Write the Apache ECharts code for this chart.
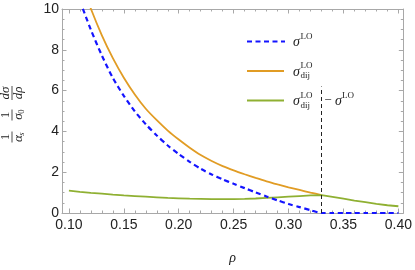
<!DOCTYPE html>
<html>
<head>
<meta charset="utf-8">
<script src="https://cdn.jsdelivr.net/npm/echarts@6/dist/echarts.min.js"></script>
<style>
html, body { margin: 0; padding: 0; background: #fff; }
#chart { width: 415px; height: 270px; }
</style>
</head>
<body>
<div id="chart"></div>
<script>
// rho grid and the three curves (null = not drawn)
var rho = [0.10, 0.11, 0.12, 0.13, 0.14, 0.15, 0.16, 0.17, 0.18, 0.19, 0.20,
           0.21, 0.22, 0.23, 0.24, 0.25, 0.26, 0.27, 0.28, 0.29, 0.30,
           0.31, 0.32, 0.33, 0.34, 0.35, 0.36, 0.37, 0.38, 0.39, 0.40];
var sigmaLO = [null, 10.4, 8.98, 7.72, 6.62, 5.74, 4.98, 4.35, 3.80, 3.31, 2.89,
               2.51, 2.17, 1.89, 1.65, 1.43, 1.22, 1.01, 0.81, 0.62, 0.44,
               0.29, 0.14, 0, 0, 0, 0, 0, 0, 0, 0];
var sigmaDij = [null, 11.5, 10.01, 8.71, 7.59, 6.63, 5.81, 5.11, 4.55, 4.04, 3.60,
                3.20, 2.84, 2.55, 2.30, 2.09, 1.90, 1.72, 1.55, 1.40, 1.26,
                1.13, 1.00, 0.88, null, null, null, null, null, null, null];
var sigmaDiff = [1.10, 1.04, 0.99, 0.95, 0.90, 0.86, 0.83, 0.80, 0.77, 0.74, 0.72,
                 0.70, 0.69, 0.68, 0.68, 0.68, 0.69, 0.71, 0.74, 0.77, 0.80,
                 0.83, 0.86, 0.88, 0.79, 0.70, 0.61, 0.53, 0.45, 0.38, 0.33];
// vertical marker: x, y from, y to
var cutRho = 0.33, cutFrom = 0, cutTo = 6.2;

var xMajor = [0.10, 0.15, 0.20, 0.25, 0.30, 0.35, 0.40];
var xMinor = [0.10, 0.11, 0.12, 0.13, 0.14, 0.15, 0.16, 0.17, 0.18, 0.19, 0.20,
              0.21, 0.22, 0.23, 0.24, 0.25, 0.26, 0.27, 0.28, 0.29, 0.30,
              0.31, 0.32, 0.33, 0.34, 0.35, 0.36, 0.37, 0.38, 0.39, 0.40];

var chart = echarts.init(document.getElementById('chart'));

function pairs(ys) {
    return rho.map(function (x, i) { return [x, ys[i]]; });
}

var frame = '#a8a8a8';
var xmin = 0.0937, xmax = 0.4045;
var serif = '"Liberation Serif", "DejaVu Serif", serif';
var sans = '"Liberation Sans", Arial, sans-serif';

function xAx(pos, ticks, len, labels, line) {
    return {
        type: 'value', position: pos, min: xmin, max: xmax,
        axisLine: { show: line, lineStyle: { color: frame, width: 1 } },
        axisTick: { show: true, inside: true, length: len, customValues: ticks,
                    lineStyle: { color: frame, width: 1 } },
        axisLabel: { show: labels, customValues: ticks, margin: 5,
                     formatter: function (v) { return v.toFixed(2); },
                     color: '#222', fontSize: 14, fontFamily: sans },
        splitLine: { show: false }
    };
}
function yAx(pos, labels) {
    return {
        type: 'value', position: pos, min: 0, max: 10, interval: 2,
        axisLine: { show: true, lineStyle: { color: frame, width: 1 } },
        axisTick: { show: true, inside: true, length: 4.5, lineStyle: { color: frame } },
        minorTick: { show: true, splitNumber: 4, length: 2.5, lineStyle: { color: frame } },
        axisLabel: { show: labels, margin: 3, color: '#222', fontSize: 14, fontFamily: sans },
        splitLine: { show: false }
    };
}

var xAxes = [
    xAx('bottom', xMajor, 4.5, true, true),
    xAx('bottom', xMinor, 2.5, false, false),
    xAx('top', xMajor, 4.5, false, true),
    xAx('top', xMinor, 2.5, false, false)
];
xAxes[0].name = 'ρ';
xAxes[0].nameLocation = 'middle';
xAxes[0].nameGap = 38;
xAxes[0].nameTextStyle = { fontFamily: serif, fontStyle: 'italic', fontSize: 14, color: '#222' };

// text centred vertically on y
function txt(t, x, y, size, italic, align) {
    return {
        type: 'text', x: x, y: y, silent: true,
        style: {
            text: t, fill: '#222',
            fontSize: size, fontFamily: serif,
            fontStyle: italic ? 'italic' : 'normal',
            align: align || 'left',
            verticalAlign: 'middle'
        }
    };
}
function seg(x1, y1, x2, y2, color, width, dash) {
    return {
        type: 'line', silent: true,
        shape: { x1: x1, y1: y1, x2: x2, y2: y2 },
        style: { stroke: color, lineWidth: width, lineDash: dash || null }
    };
}

// y-axis label: (1/alpha_s)(1/sigma_0)(d sigma/d rho), rotated
var yLabel = {
    type: 'group', x: 12, y: 115, rotation: Math.PI / 2, silent: true,
    children: [
        txt('1', -22, -6.5, 13, false, 'center'),
        seg(-27.5, 0, -16.5, 0, '#222', 0.8),
        txt('α', -23.5, 7, 13, true, 'center'),
        txt('s', -19, 10, 8.5, true, 'center'),
        txt('1', 0, -6.5, 13, false, 'center'),
        seg(-5.5, 0, 5.5, 0, '#222', 0.8),
        txt('σ', -1.5, 7, 13, true, 'center'),
        txt('0', 3.5, 10, 8.5, false, 'center'),
        txt('dσ', 22, -6.5, 13, true, 'center'),
        seg(15, 0, 29, 0, '#222', 0.8),
        txt('dρ', 22, 7, 13, true, 'center')
    ]
};

var legend = [
    seg(247, 41.5, 285, 41.5, '#1414ff', 2.2, [5, 3.5]),
    txt('σ', 293, 42.5, 14, true),
    txt('LO', 300.5, 36.5, 9),
    seg(247, 71, 284, 71, '#e19c24', 1.8),
    txt('σ', 293, 72, 14, true),
    txt('LO', 300.5, 66, 9),
    txt('dij', 300.5, 76, 9),
    seg(247, 100.5, 284, 100.5, '#8fb032', 1.8),
    txt('σ', 293, 101.5, 14, true),
    txt('LO', 300.5, 95.5, 9),
    txt('dij', 300.5, 105.5, 9),
    txt('−', 328, 101, 13, false, 'center'),
    txt('σ', 335, 101.5, 14, true),
    txt('LO', 342, 95.5, 9)
];

var option = {
    animation: false,
    grid: { left: 62, right: 9, top: 9, bottom: 48, containLabel: false },
    xAxis: xAxes,
    yAxis: [yAx('left', true), yAx('right', false)],
    series: [
        {
            name: 'sigmaDiff', type: 'line', data: pairs(sigmaDiff), showSymbol: false,
            lineStyle: { color: '#8fb032', width: 1.8 }, z: 3,
            markLine: {
                silent: true, symbol: 'none', label: { show: false },
                lineStyle: { color: '#222', width: 1, type: [4, 3] },
                data: [[{ coord: [cutRho, cutFrom] }, { coord: [cutRho, cutTo] }]]
            }
        },
        {
            name: 'sigmaDij', type: 'line', data: pairs(sigmaDij), showSymbol: false,
            smooth: 0.25, lineStyle: { color: '#e19c24', width: 1.8 }, z: 2
        },
        {
            name: 'sigmaLO', type: 'line', data: pairs(sigmaLO), showSymbol: false,
            smooth: 0.25, lineStyle: { color: '#1414ff', width: 2.2, type: [5, 3.5] }, z: 4
        }
    ],
    graphic: [yLabel].concat(legend)
};
chart.setOption(option);
</script>
</body>
</html>
